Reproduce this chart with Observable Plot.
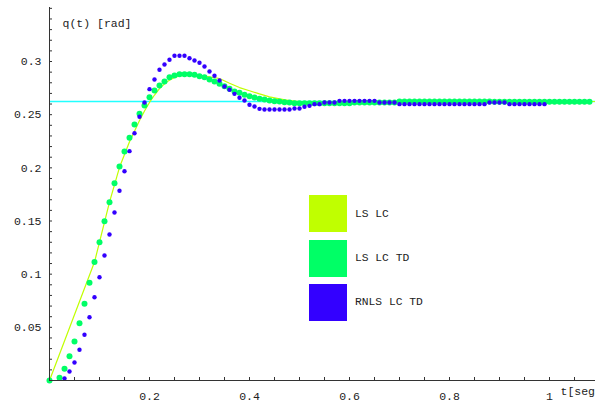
<!DOCTYPE html>
<html>
<head>
<meta charset="utf-8">
<script src="https://cdn.jsdelivr.net/npm/d3@7"></script>
<script src="https://cdn.jsdelivr.net/npm/@observablehq/plot@0.6"></script>
<style>
  html, body { margin: 0; padding: 0; background: white; }
  #wrap { position: relative; width: 595px; height: 402px; font-family: "Liberation Mono", monospace; }
  .leg { position: absolute; left: 309px; width: 38px; height: 37px; }
  .legt { position: absolute; left: 355px; font-size: 11.3px; color: #222; line-height: 14px; white-space: pre; }
</style>
</head>
<body>
<div id="wrap"></div>
<script>
// Series: [t (s), q(t) (rad)]
const lsLC = [
  [0,0],[0.09,0.1114],[0.10,0.1301],[0.12,0.1677],[0.14,0.2005],[0.16,0.2245],[0.17,0.2345],[0.18,0.2445],
  [0.19,0.2535],[0.20,0.2615],[0.21,0.2685],[0.22,0.2745],[0.23,0.279],[0.24,0.2825],[0.25,0.285],
  [0.26,0.2865],[0.27,0.2872],[0.28,0.2874],[0.29,0.2873],[0.30,0.2868],[0.32,0.2856],[0.34,0.284],
  [0.36,0.2795],[0.38,0.2755],[0.40,0.2725],[0.42,0.2695],[0.44,0.2668],[0.46,0.2648],[0.48,0.2632],
  [0.50,0.2622],[0.55,0.2615],[0.60,0.2617],[0.70,0.2622],[0.80,0.2624],[1.09,0.2624]
];
const lsLCTD = [
  [0,0],[0.02,0.0025],[0.03,0.011],[0.04,0.0229],[0.05,0.0367],[0.06,0.0539],[0.07,0.0721],[0.08,0.0919],
  [0.09,0.1114],[0.10,0.1301],[0.11,0.1498],[0.12,0.1677],[0.13,0.1856],[0.14,0.2013],[0.15,0.2154],
  [0.16,0.2283],[0.17,0.2408],[0.18,0.2508],[0.19,0.2586],[0.20,0.2664],[0.21,0.2727],[0.22,0.2774],
  [0.23,0.2813],[0.24,0.2852],[0.25,0.2868],[0.26,0.2881],[0.27,0.2881],[0.28,0.2881],[0.29,0.2875],
  [0.30,0.2862],[0.31,0.2852],[0.32,0.2831],[0.33,0.2812],[0.34,0.279],[0.35,0.2768],[0.36,0.2743],
  [0.37,0.2718],[0.38,0.2706],[0.39,0.2687],[0.40,0.2674],[0.41,0.2662],[0.42,0.2649],[0.43,0.2643],
  [0.44,0.2633],[0.45,0.2627],[0.46,0.2624],[0.47,0.2617],[0.48,0.2614],
  [0.49,0.2608],[0.50,0.2608],[0.51,0.2608],[0.52,0.2608],[0.53,0.2608],[0.54,0.2608],[0.55,0.2608],
  [0.56,0.2608],[0.57,0.2608],[0.58,0.2608],[0.59,0.2608],[0.60,0.2608],
  [0.61,0.2614],[0.62,0.2614],[0.63,0.2614],[0.64,0.2614],[0.65,0.2614],[0.66,0.2614],[0.67,0.2614],
  [0.68,0.2614],[0.69,0.2614],
  [0.70,0.2624],[0.71,0.2624],[0.72,0.2624],[0.73,0.2624],[0.74,0.2624],[0.75,0.2624],[0.76,0.2624],
  [0.77,0.2624],[0.78,0.2624],[0.79,0.2624],[0.80,0.2624],[0.81,0.2624],[0.82,0.2624],[0.83,0.2624],
  [0.84,0.2624],[0.85,0.2624],[0.86,0.2624],[0.87,0.2624],[0.88,0.2624],
  [0.89,0.2621],[0.90,0.2621],[0.91,0.2621],[0.92,0.2621],[0.93,0.2621],[0.94,0.2621],[0.95,0.2621],
  [0.96,0.2621],[0.97,0.2621],[0.98,0.2621],[0.99,0.2621],[1.00,0.2621],[1.01,0.2621],[1.02,0.2621],
  [1.03,0.2621],[1.04,0.2621],[1.05,0.2621],[1.06,0.2621],[1.07,0.2621],[1.08,0.2621]
];
const rnlsLCTD = [
  [0.03,0.0019],[0.04,0.0085],[0.05,0.0169],[0.06,0.0289],[0.07,0.043],[0.08,0.0595],[0.09,0.0783],
  [0.10,0.0971],[0.11,0.1176],[0.12,0.1373],[0.13,0.158],[0.14,0.1784],[0.15,0.1968],[0.16,0.2157],
  [0.17,0.2326],[0.18,0.248],[0.19,0.2614],[0.20,0.274],[0.21,0.2831],[0.22,0.2922],[0.23,0.2972],
  [0.24,0.3016],[0.25,0.3054],[0.26,0.3054],[0.27,0.3054],[0.28,0.3031],[0.29,0.301],[0.30,0.2988],
  [0.31,0.2953],[0.32,0.2906],[0.33,0.2866],[0.34,0.2821],[0.35,0.2765],[0.36,0.2734],[0.37,0.2696],
  [0.38,0.2659],[0.39,0.2633],[0.40,0.2593],[0.41,0.2577],[0.42,0.2555],
  [0.43,0.2549],[0.44,0.2549],[0.45,0.2549],[0.46,0.2549],[0.47,0.2549],[0.48,0.2549],
  [0.49,0.2558],[0.50,0.2558],[0.51,0.2574],[0.52,0.2583],[0.53,0.2599],[0.54,0.2599],
  [0.55,0.2614],[0.56,0.2614],[0.57,0.2614],
  [0.58,0.263],[0.59,0.263],[0.60,0.263],[0.61,0.263],[0.62,0.263],[0.63,0.263],[0.64,0.263],[0.65,0.263],
  [0.66,0.2614],[0.67,0.2614],[0.68,0.2614],[0.69,0.2614],
  [0.70,0.2599],[0.71,0.2599],[0.72,0.2599],[0.73,0.2599],[0.74,0.2599],[0.75,0.2599],[0.76,0.2599],
  [0.77,0.2599],[0.78,0.2599],[0.79,0.2599],[0.80,0.2599],[0.81,0.2599],[0.82,0.2599],[0.83,0.2599],
  [0.84,0.2599],[0.85,0.2599],[0.86,0.2599],[0.87,0.2599],
  [0.88,0.2614],[0.89,0.2614],[0.90,0.2614],[0.91,0.2614],
  [0.92,0.2599],[0.93,0.2599],[0.94,0.2599],[0.95,0.2599],[0.96,0.2599],[0.97,0.2599],[0.98,0.2599],[0.99,0.2599]
];
const referenceQ = [0.2624];
const xTickLabels = [0.2, 0.4, 0.6, 0.8, 1];
const xMinorTicks = [0.05,0.1,0.15,0.2,0.25,0.3,0.35,0.4,0.45,0.5,0.55,0.6,0.65,0.7,0.75,0.8,0.85,0.9,0.95,1,1.05];
const yTickLabels = [0.05, 0.1, 0.15, 0.2, 0.25, 0.3];
const yMinorTicks = [0.01,0.02,0.03,0.04,0.05,0.06,0.07,0.08,0.09,0.1,0.11,0.12,0.13,0.14,0.15,0.16,0.17,0.18,0.19,0.2,
  0.21,0.22,0.23,0.24,0.25,0.26,0.27,0.28,0.29,0.3,0.31,0.32,0.33,0.34,0.35];
const legendNames = ["LS LC", "LS LC TD", "RNLS LC TD"];
const legendColors = ["#c0ff00", "#00ff66", "#3300ff"];

const fmt = d => String(+d.toFixed(2));
const axisColor = "#333";

const chart = Plot.plot({
  width: 595, height: 402,
  marginLeft: 49, marginRight: 0, marginTop: 7, marginBottom: 22,
  x: {domain: [0, 1.092]},
  y: {domain: [0, 0.3508]},
  style: {fontFamily: "'Liberation Mono', monospace", fontSize: "11.5px", color: "#222", background: "white", overflow: "hidden"},
  marks: [
    Plot.ruleY(referenceQ, {stroke: "#22ffff", strokeWidth: 1.3, strokeOpacity: 1}),
    Plot.line(lsLC, {x: d => d[0], y: d => d[1], stroke: legendColors[0], strokeWidth: 1.2}),
    Plot.dot(lsLCTD, {x: d => d[0], y: d => d[1], r: 3, fill: legendColors[1], stroke: "none"}),
    Plot.dot(rnlsLCTD, {x: d => d[0], y: d => d[1], r: 2.2, fill: legendColors[2], stroke: "none"}),
    Plot.ruleX([0], {stroke: axisColor}),
    Plot.ruleY([0], {stroke: axisColor}),
    Plot.axisY({ticks: yMinorTicks, tickSize: -3, fill: "none", stroke: axisColor, label: null}),
    Plot.axisY({ticks: yTickLabels, tickSize: 0, tickPadding: 8, tickFormat: fmt, fill: "#222", label: null}),
    Plot.axisX({ticks: xMinorTicks, tickSize: -3, fill: "none", stroke: axisColor, label: null}),
    Plot.axisX({ticks: xTickLabels, tickSize: 0, tickPadding: 11, tickFormat: fmt, fill: "#222", label: null}),
    Plot.text(["q(t) [rad]"], {frameAnchor: "top-left", dx: 13, dy: 11, textAnchor: "start", lineAnchor: "top", fill: "#222"}),
    Plot.text(["t[seg"], {frameAnchor: "bottom-right", dx: -35, dy: 6, textAnchor: "start", lineAnchor: "top", fill: "#222"})
  ]
});

const wrap = document.getElementById("wrap");
wrap.appendChild(chart);
const legTops = [195, 239.5, 283.5];
legendNames.forEach((name, i) => {
  const sq = document.createElement("div");
  sq.className = "leg";
  sq.style.top = legTops[i] + "px";
  sq.style.background = legendColors[i];
  wrap.appendChild(sq);
  const t = document.createElement("div");
  t.className = "legt";
  t.style.top = (legTops[i] + 18.5 - 7) + "px";
  t.textContent = name;
  wrap.appendChild(t);
});
</script>
</body>
</html>
